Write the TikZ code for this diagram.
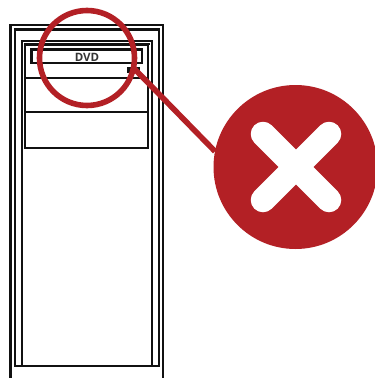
\documentclass[tikz,border=0pt]{standalone}
\usepackage{fontspec}
\setmainfont{Open Sans}
\definecolor{alertred}{HTML}{B32025}
\definecolor{ink}{HTML}{111111}
\tikzset{
  case/.style={draw=ink,line width=2.1pt},
  bay/.style={draw=ink,line width=2.3pt},
  lens/.style={circle,draw=alertred,line width=5.6pt,minimum size=95pt,inner sep=0pt,outer sep=0pt},
  badge/.style={circle,fill=alertred,minimum size=164pt,inner sep=0pt,outer sep=0pt},
  pointer/.style={draw=alertred,line width=5.6pt},
  crossbar/.style={draw=white,line width=24.5pt,line cap=round},
  label/.style={font=\bfseries\fontsize{11.5}{13}\selectfont,text=ink!85!white,inner sep=0pt}
}
\begin{document}
\begin{tikzpicture}[x=1pt,y=-1pt]
\clip (0,0) rectangle (375,378);
\fill[white] (0,0) rectangle (375,378);
% tower
\draw[case] (10.5,379) -- (10.5,25) -- (163,25) -- (163,379);
\draw[case] (15,29.5) rectangle (159,366);
\draw[case] (22,41) rectangle (152,366);
\draw[case,line width=1.2pt] (24,44) -- (150,44);
% bays
\draw[bay] (25,44.5) rectangle (148,148);
\draw[bay] (25,78) -- (148,78);
\draw[bay] (25,112) -- (148,112);
\draw[bay] (31.5,49.5) rectangle (142,63);
\node[label] (dvd) at (87,57) {DVD};
\draw[bay,fill=ink] (128.5,68) rectangle (138.5,72);
% magnifier and alert
\node[lens] (zoomring) at (87,58) {};
\node[badge] (alert) at (295.5,167) {};
\draw[pointer] (zoomring.-12) -- (alert.169);
\draw[crossbar] (263,134) -- (329,200);
\draw[crossbar] (329,134) -- (263,200);
\end{tikzpicture}
\end{document}
